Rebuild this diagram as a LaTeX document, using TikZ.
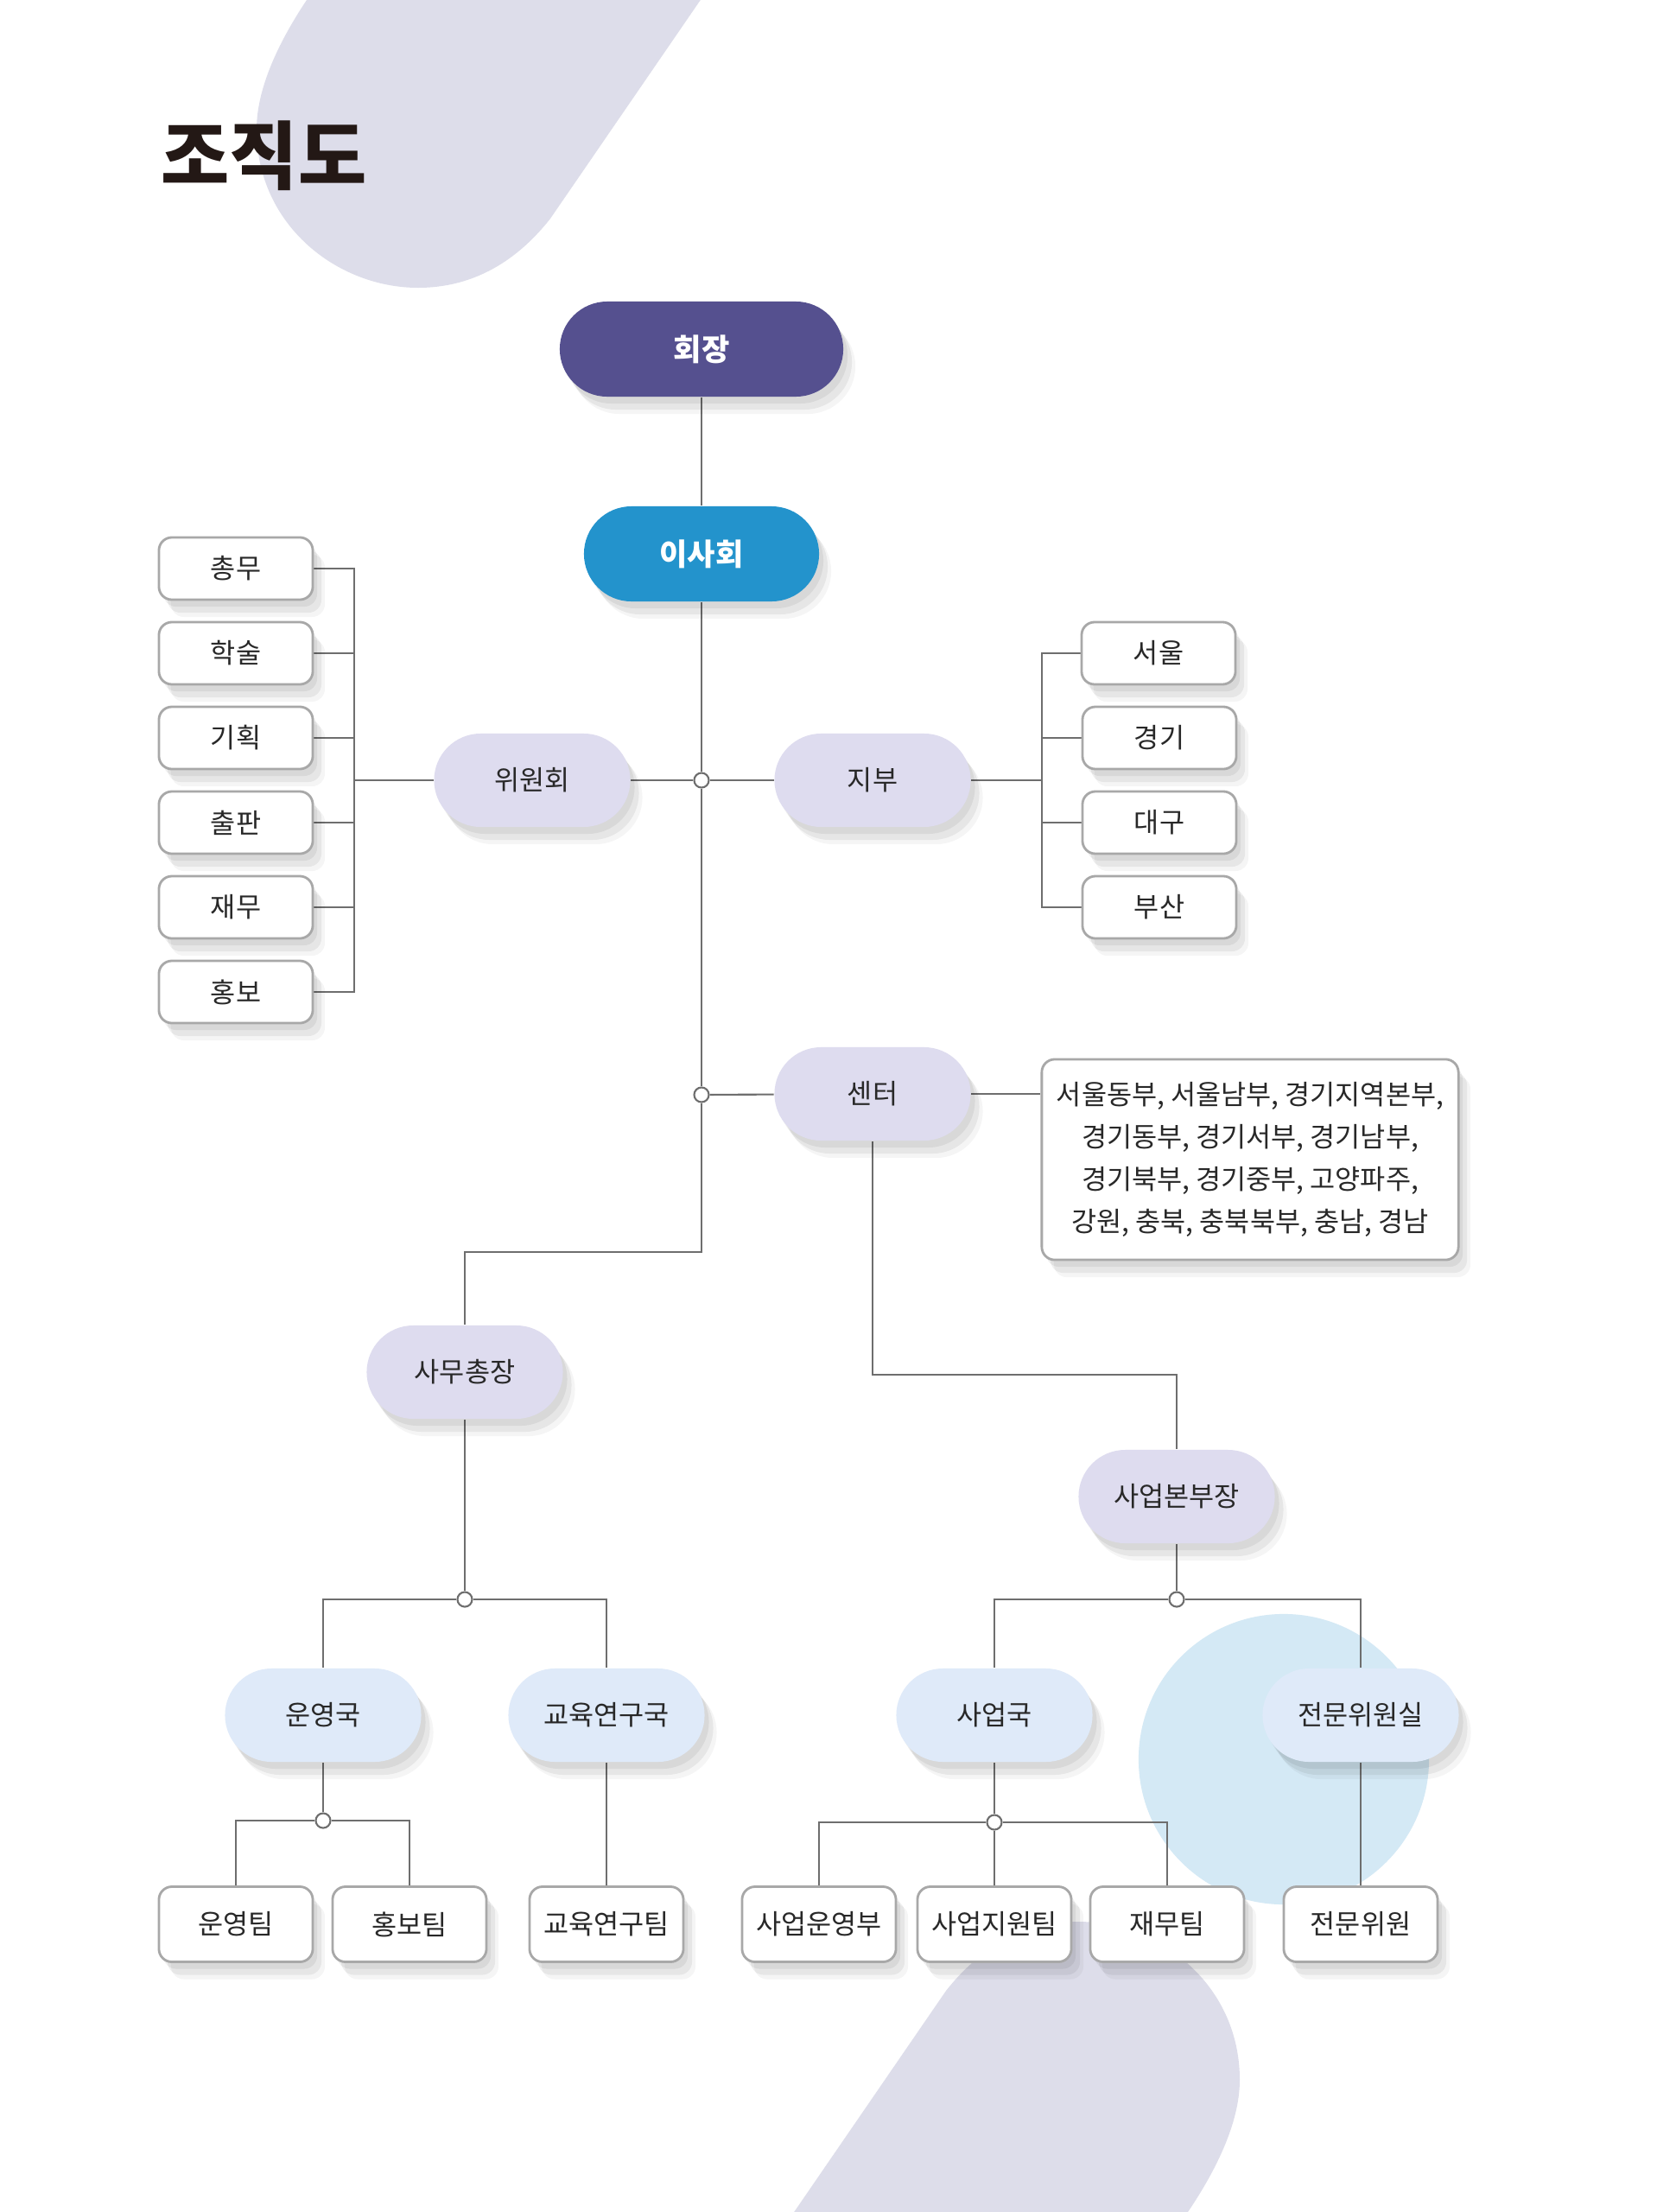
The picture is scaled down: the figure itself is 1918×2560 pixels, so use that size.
\documentclass[tikz,border=0pt]{standalone}
\usepackage{fontspec}
\newfontfamily\kr{Noto Sans CJK KR}
\usetikzlibrary{shadows}
\definecolor{lav}{RGB}{221,221,234}
\definecolor{nodelav}{RGB}{222,220,239}
\definecolor{nodeblue}{RGB}{223,234,249}
\definecolor{purp}{RGB}{85,80,143}
\definecolor{cyanb}{RGB}{35,147,204}
\definecolor{circ}{RGB}{212,233,245}
\definecolor{lncol}{RGB}{110,110,110}
\definecolor{bordcol}{RGB}{168,168,168}
\definecolor{txt}{RGB}{40,40,40}
\definecolor{ttl}{RGB}{35,24,21}
\pgfdeclarelayer{bg}
\pgfdeclarelayer{lines}
\pgfsetlayers{bg,lines,main}
\newcommand\myblob{(397,-60) -- (355,0) .. controls (325,45) and (297,100) .. (297,150) .. controls (297,260) and (390,333) .. (484,333) .. controls (550,333) and (600,300) .. (637,253) -- (852,-60) -- cycle}
\begin{document}
\begin{tikzpicture}[x=0.01cm,y=-0.01cm,
  softsh/.style={general shadow={shadow xshift=0.05cm,shadow yshift=-0.08cm,fill=black,opacity=0.06},
                 general shadow={shadow xshift=0.1cm,shadow yshift=-0.15cm,fill=black,opacity=0.06},
                 general shadow={shadow xshift=0.14cm,shadow yshift=-0.2cm,fill=black,opacity=0.04}},
  lbl/.style={font=\kr\fontsize{9}{11}\selectfont,text=txt},
  capsule/.style={softsh,lbl,rounded corners=0.54cm,minimum width=2.27cm,minimum height=1.08cm,inner sep=0pt},
  lavcap/.style={capsule,fill=nodelav},
  bluecap/.style={capsule,fill=nodeblue},
  wbox/.style={softsh,lbl,fill=white,draw=bordcol,line width=0.8pt,rounded corners=0.15cm,minimum width=1.78cm,minimum height=0.72cm,inner sep=0pt},
  tallbox/.style={wbox,minimum height=0.87cm},
  jn/.style={circle,draw=lncol,fill=white,line width=0.6pt,inner sep=0pt,minimum size=0.17cm},
  ln/.style={draw=lncol,line width=0.6pt}]
\useasboundingbox (0,0) rectangle (1918,2560);
\begin{pgfonlayer}{bg}
\fill[white] (0,0) rectangle (1918,2560);
\begin{scope}
\clip (0,0) rectangle (1918,2560);
\fill[lav] \myblob;
\fill[lav,rotate around={180:(866,1278.5)}] \myblob;
\fill[circ] (1486,2036) circle (1.68cm);
\end{scope}
\end{pgfonlayer}

\node[anchor=west,inner sep=0pt,font=\kr\bfseries\fontsize{24.5}{29}\selectfont,text=ttl] (title) at (186,180) {조직도};

% top
\node[softsh,rounded corners=0.55cm,minimum width=3.28cm,minimum height=1.10cm,fill=purp,text=white,font=\kr\bfseries\fontsize{10}{12}\selectfont] (hoejang) at (812,404) {회장};
\node[softsh,rounded corners=0.55cm,minimum width=2.72cm,minimum height=1.10cm,fill=cyanb,text=white,font=\kr\bfseries\fontsize{10}{12}\selectfont] (isahoe) at (812,641) {이사회};

\node[jn] (j1) at (812,903) {};
\node[jn] (j2) at (812,1267) {};

\node[lavcap] (wiwon) at (616,903) {위원회};
\node[lavcap] (jibu) at (1010,903) {지부};
\node[lavcap] (center) at (1010,1266) {센터};

% left boxes
\node[wbox] (chongmu) at (273,658) {총무};
\node[wbox] (haksul) at (273,756) {학술};
\node[wbox] (gihoek) at (273,854) {기획};
\node[wbox] (chulpan) at (273,952) {출판};
\node[wbox] (jaemu) at (273,1050) {재무};
\node[wbox] (hongbo) at (273,1148) {홍보};
\coordinate (lbus) at (410,903);

% right boxes
\node[wbox] (seoul) at (1341,756) {서울};
\node[wbox] (gyeonggi) at (1342,854) {경기};
\node[wbox] (daegu) at (1342,952) {대구};
\node[wbox] (busan) at (1342,1050) {부산};
\coordinate (rbus) at (1206,903);

\node[wbox,minimum width=4.82cm,minimum height=2.32cm,align=center,font=\kr\fontsize{9}{13.9}\selectfont] (cbox) at (1447,1342)
 {서울동부, 서울남부, 경기지역본부,\\경기동부, 경기서부, 경기남부,\\경기북부, 경기중부, 고양파주,\\강원, 충북, 충북북부, 충남, 경남};

\node[lavcap] (samu) at (538,1588) {사무총장};
\node[lavcap] (bonbu) at (1362,1732) {사업본부장};
\coordinate (bendA) at (812,1449);
\coordinate (bendB) at (1010,1591);

\node[jn] (j3) at (538,1851) {};
\node[jn] (j4) at (1362,1851) {};

\node[bluecap] (unyeong) at (374,1985) {운영국};
\node[bluecap] (gyoyuk) at (702,1985) {교육연구국};
\node[bluecap] (saeop) at (1151,1985) {사업국};
\node[bluecap] (jeonmunsil) at (1575,1985) {전문위원실};

\node[jn] (j5) at (374,2107) {};
\node[jn] (j6) at (1151,2109) {};

\node[tallbox] (unteam) at (273,2227) {운영팀};
\node[tallbox] (hongteam) at (474,2227) {홍보팀};
\node[tallbox] (gyoteam) at (702,2227) {교육연구팀};
\node[tallbox] (saunbu) at (948,2227) {사업운영부};
\node[tallbox] (sajiteam) at (1151,2227) {사업지원팀};
\node[tallbox] (jaeteam) at (1351,2227) {재무팀};
\node[tallbox] (jeonmun) at (1575,2227) {전문위원};

\begin{pgfonlayer}{lines}
\draw[ln] (hoejang) -- (isahoe);
\draw[ln] (isahoe) -- (j1) -- (j2) -- (bendA) -| (samu);
\draw[ln] (j1) -- (wiwon);
\draw[ln] (j1) -- (jibu);
\draw[ln] (j2) -- (center);
\draw[ln] (wiwon) -- (lbus);
\foreach \b in {chongmu,haksul,gihoek,chulpan,jaemu,hongbo} \draw[ln] (\b.east) -| (lbus);
\draw[ln] (jibu) -- (rbus);
\foreach \b in {seoul,gyeonggi,daegu,busan} \draw[ln] (\b.west) -| (rbus);
\draw[ln] (center.east) -- (center.east -| cbox.west);
\draw[ln] (center.south) -- (bendB) -| (bonbu);
\draw[ln] (samu) -- (j3);
\draw[ln] (j3) -| (unyeong);
\draw[ln] (j3) -| (gyoyuk);
\draw[ln] (bonbu) -- (j4);
\draw[ln] (j4) -| (saeop);
\draw[ln] (j4) -| (jeonmunsil);
\draw[ln] (unyeong) -- (j5);
\draw[ln] (j5) -| (unteam);
\draw[ln] (j5) -| (hongteam);
\draw[ln] (gyoyuk) -- (gyoteam);
\draw[ln] (saeop) -- (j6);
\draw[ln] (j6) -| (saunbu);
\draw[ln] (j6) -- (sajiteam);
\draw[ln] (j6) -| (jaeteam);
\draw[ln] (jeonmunsil) -- (jeonmun);
\end{pgfonlayer}
\end{tikzpicture}
\end{document}
